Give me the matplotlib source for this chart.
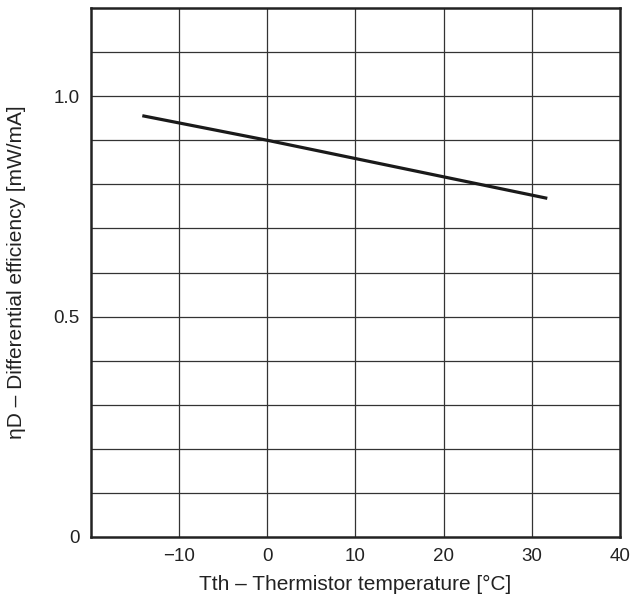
import numpy as np
import matplotlib
matplotlib.use('Agg')
import matplotlib.pyplot as plt

plt.rcParams['font.family'] = ['Liberation Sans', 'DejaVu Sans']

# Data
temp = [-14, 0, 31.6]
eff = [0.955, 0.9, 0.769]

x_ticks = [-10, 0, 10, 20, 30, 40]
y_ticks = [0, 0.5, 1.0]
y_tick_labels = ['0', '0.5', '1.0']

fig = plt.figure(figsize=(6.35, 6.08), dpi=100)
ax = fig.add_axes([0.1433, 0.1168, 0.8327, 0.870])

ax.set_xlim(-20, 40)
ax.set_ylim(0, 1.2)

# Grid
for gx in np.arange(-10, 40, 10):
    ax.axvline(gx, color='#333333', lw=0.9, zorder=1)
for gy in np.arange(0.1, 1.2, 0.1):
    ax.axhline(gy, color='#333333', lw=0.9, zorder=1)

ax.plot(temp, eff, color='#1a1a1a', lw=2.3, zorder=3)

ax.set_xticks(x_ticks)
ax.set_yticks(y_ticks)
ax.set_yticklabels(y_tick_labels)
ax.tick_params(length=0, labelsize=13.5, pad=8, colors='#222222')
for s in ax.spines.values():
    s.set_linewidth(1.8)
    s.set_color('#222222')

ax.set_xlabel('Tth – Thermistor temperature [°C]', fontsize=15, labelpad=7, color='#222222')
ax.set_ylabel('ηD – Differential efficiency [mW/mA]', fontsize=15, labelpad=20, color='#222222')

plt.savefig('out.png', dpi=100)
